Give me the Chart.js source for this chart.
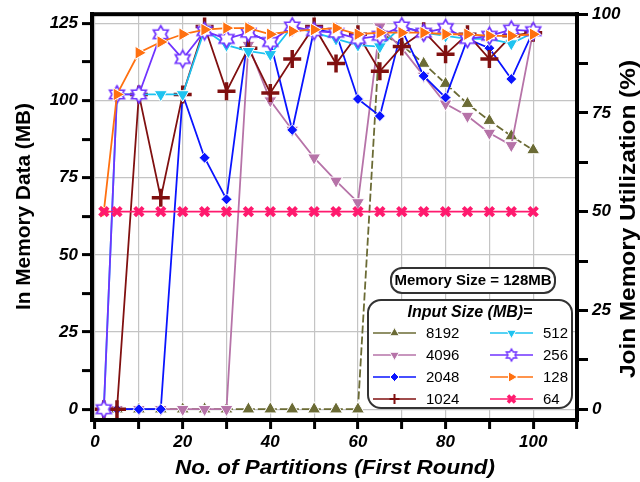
<!DOCTYPE html>
<html>
<head>
<meta charset="utf-8">
<script src="https://cdn.jsdelivr.net/npm/chart.js@4.4.1/dist/chart.umd.min.js"></script>
<style>
  html, body { margin: 0; padding: 0; background: #fff; }
  #wrap { width: 640px; height: 482px; }
</style>
</head>
<body>
<div id="wrap"><canvas id="chart" width="640" height="482"></canvas></div>
<script>
// x positions (no. of partitions, first round)
const partitions = [2, 5, 10, 15, 20, 25, 30, 35, 40, 45, 50, 55, 60, 65, 70, 75, 80, 85, 90, 95, 100];

// in-memory data (MB) per input size
const s8192 = [0, 0, 0, 0, 0, 0, 0, 0, 0, 0, 0, 0, 0, 122, 118, 112, 105.5, 99, 93.5, 88.5, 84];
const s4096 = [0, 0, 0, 0, 0, 0, 0, 118, 100, 90.5, 81.5, 74, 67, 124, 117, 108, 99, 95, 89.5, 85.5, 122.5];
const s2048 = [0, 0, 0, 0, 102, 81.5, 68, 122, 119, 90.5, 123, 122, 100.5, 95, 123, 108, 101, 120, 117, 107, 122.5];
const s1024 = [0, 0, 102, 68.5, 102, 124, 103, 117, 102.5, 113.5, 124, 112, 121.5, 109.5, 117.5, 122.5, 115, 121.5, 113.5, 121, 122];
const s512 = [0, 102, 102, 102, 102, 123, 118, 116, 115, 124, 122, 120, 118, 117.5, 124, 122, 121, 120, 120, 118.5, 122];
const s256 = [0, 102, 102, 121.5, 113.5, 122.5, 120, 122, 119, 124, 122.5, 122, 120, 121, 124, 122, 123.5, 120, 121, 123, 122.5];
const s128 = [64, 102, 115.5, 119, 121.5, 123, 123.5, 123.5, 121.5, 122.5, 123, 123.5, 121.5, 122, 122, 122, 121.5, 121.5, 121, 121, 121.5];
const s64 = [64, 64, 64, 64, 64, 64, 64, 64, 64, 64, 64, 64, 64, 64, 64, 64, 64, 64, 64, 64, 64];

// ticks
const xTickValues = [0, 10, 20, 30, 40, 50, 60, 70, 80, 90, 100, 110];
const xLabelValues = [0, 20, 40, 60, 80, 100];
const yTickValues = [0, 12.5, 25, 37.5, 50, 62.5, 75, 87.5, 100, 112.5, 125];
const yLabelValues = [0, 25, 50, 75, 100, 125];
const pctTickValues = [0, 12.5, 25, 37.5, 50, 62.5, 75, 87.5, 100];
const pctLabelValues = [0, 25, 50, 75, 100];

const FONT = "'Liberation Sans', Arial, sans-serif";
const tickFont = { family: FONT, size: 17, weight: 'bold', style: 'italic' };
const GRID = '#c4c4c4';

// hollow six-pointed star marker
function hexagram(color, r, lw) {
  const c = document.createElement('canvas');
  const s = Math.ceil(r * 2 + 4);
  c.width = c.height = s;
  const g = c.getContext('2d');
  g.beginPath();
  for (let i = 0; i < 12; i++) {
    const a = -Math.PI / 2 + i * Math.PI / 6;
    const rr = i % 2 === 0 ? r : r * 0.577;
    const px = s / 2 + rr * Math.cos(a), py = s / 2 + rr * Math.sin(a);
    if (i === 0) g.moveTo(px, py); else g.lineTo(px, py);
  }
  g.closePath();
  g.fillStyle = '#fff';
  g.fill();
  g.lineWidth = lw;
  g.strokeStyle = color;
  g.stroke();
  return c;
}

const colors = {
  c8192: '#6b6b35', c4096: '#b673a8', c2048: '#0a14ff', c1024: '#801010',
  c512: '#1ec3f0', c256: '#7033ff', c128: '#ff7010', c64: '#ff1a6e'
};

function series(label, values, color, style, radius, extra) {
  return Object.assign({
    label: label,
    data: partitions.map((x, i) => ({ x: x, y: values[i] })),
    borderColor: color,
    backgroundColor: color,
    borderWidth: 1.8,
    pointBackgroundColor: color,
    pointBorderColor: '#fff',
    pointBorderWidth: 1,
    pointStyle: style,
    pointRadius: radius,
    pointHoverRadius: radius,
    tension: 0
  }, extra || {});
}

const datasets = [
  series('8192', s8192, colors.c8192, 'triangle', 7.5, { order: 8, borderDash: [8, 3], legendRadius: 5.5 }),
  series('4096', s4096, colors.c4096, 'triangle', 7.5, { order: 7, pointRotation: 180, legendRadius: 5.5 }),
  series('2048', s2048, colors.c2048, 'rectRot', 5.5, { order: 6, legendRadius: 4.5 }),
  series('1024', s1024, colors.c1024, 'cross', 9, { order: 5, pointBorderColor: colors.c1024, pointBorderWidth: 3.5, legendRadius: 5, legendBorder: 2 }),
  series('512', s512, colors.c512, 'triangle', 7.5, { order: 4, pointRotation: 180, legendRadius: 5.5 }),
  series('256', s256, colors.c256, hexagram(colors.c256, 8.5, 1.7), 8.5, { order: 3, legendImage: hexagram(colors.c256, 6, 1.4) }),
  series('128', s128, colors.c128, 'triangle', 7.5, { order: 2, pointRotation: 90, legendRadius: 6 }),
  series('64', s64, colors.c64, 'crossRot', 6, { order: 1, pointBorderColor: colors.c64, pointBorderWidth: 4, legendRadius: 5, legendBorder: 3.5 })
];

function stretchedText(ctx, text, x, y, angle, font, width) {
  ctx.save();
  ctx.font = font;
  const w = ctx.measureText(text).width;
  ctx.translate(x, y);
  ctx.rotate(angle);
  ctx.scale(width / w, 1);
  ctx.textAlign = 'center';
  ctx.textBaseline = 'middle';
  ctx.fillStyle = '#000';
  ctx.fillText(text, 0, 0);
  ctx.restore();
}

function roundBox(ctx, x, y, w, h, r) {
  ctx.beginPath();
  ctx.moveTo(x + r, y);
  ctx.arcTo(x + w, y, x + w, y + h, r);
  ctx.arcTo(x + w, y + h, x, y + h, r);
  ctx.arcTo(x, y + h, x, y, r);
  ctx.arcTo(x, y, x + w, y, r);
  ctx.closePath();
  ctx.fillStyle = '#fff';
  ctx.fill();
  ctx.lineWidth = 2;
  ctx.strokeStyle = '#333';
  ctx.stroke();
}

const decorations = {
  id: 'decorations',
  afterDraw(chart) {
    const ctx = chart.ctx;
    const a = chart.chartArea;
    ctx.save();
    ctx.lineWidth = 4;
    ctx.strokeStyle = '#000';
    ctx.strokeRect(a.left, a.top, a.right - a.left, a.bottom - a.top);

    stretchedText(ctx, 'In Memory Data (MB)', 24, 206.5, -Math.PI / 2, 'bold 21px ' + FONT, 207);
    stretchedText(ctx, 'Join Memory Utilization (%)', 629, 219, -Math.PI / 2, 'bold 22px ' + FONT, 318);
    stretchedText(ctx, 'No. of Partitions (First Round)', 335, 468, 0, 'italic bold 21px ' + FONT, 320);

    // memory size box
    roundBox(ctx, 391, 268, 164, 25, 11);
    ctx.fillStyle = '#000';
    ctx.font = 'bold 15px ' + FONT;
    ctx.textAlign = 'center';
    ctx.textBaseline = 'middle';
    ctx.fillText('Memory Size = 128MB', 473, 281);

    // legend box
    roundBox(ctx, 368, 300, 204, 108, 13);
    ctx.fillStyle = '#000';
    ctx.font = 'italic bold 16px ' + FONT;
    ctx.fillText('Input Size (MB)=', 470, 313);

    const rows = [333, 355, 377, 399];
    const cols = [373, 490];
    ctx.font = '15px ' + FONT;
    ctx.textAlign = 'left';
    chart.data.datasets.forEach((ds, i) => {
      const x0 = cols[i < 4 ? 0 : 1];
      const y = rows[i % 4];
      ctx.save();
      ctx.strokeStyle = ds.borderColor;
      ctx.lineWidth = 1.6;
      ctx.beginPath();
      ctx.moveTo(x0, y);
      ctx.lineTo(x0 + 43, y);
      ctx.stroke();
      ctx.fillStyle = ds.pointBackgroundColor;
      ctx.strokeStyle = ds.pointBorderColor;
      if (ds.legendImage) {
        const im = ds.legendImage;
        ctx.drawImage(im, x0 + 21.5 - im.width / 2, y - im.height / 2);
      } else {
        ctx.lineWidth = ds.legendBorder || 1;
        Chart.helpers.drawPoint(ctx, {
          pointStyle: ds.pointStyle,
          rotation: ds.pointRotation || 0,
          radius: ds.legendRadius,
          borderWidth: ds.legendBorder || 1
        }, x0 + 21.5, y);
      }
      ctx.restore();
      ctx.fillStyle = '#000';
      ctx.fillText(ds.label, x0 + 53, y + 1);
    });
    ctx.restore();
  }
};

new Chart(document.getElementById('chart'), {
  type: 'line',
  data: { datasets: datasets },
  options: {
    responsive: false,
    animation: false,
    layout: { padding: { top: 14, left: 0, right: 0, bottom: 0 } },
    plugins: { legend: { display: false }, tooltip: { enabled: false } },
    scales: {
      x: {
        type: 'linear',
        min: -0.7,
        max: 110,
        afterBuildTicks: s => { s.ticks = xTickValues.map(v => ({ value: v })); },
        afterFit: s => { s.height = 62; },
        ticks: {
          font: tickFont, color: '#000', padding: 3, maxRotation: 0, autoSkip: false,
          callback: v => xLabelValues.includes(v) ? v : ''
        },
        grid: { color: GRID, lineWidth: 1.2, tickColor: '#000', tickLength: 9, tickWidth: 3 },
        border: { color: '#000', width: 4 }
      },
      y: {
        position: 'left',
        min: -3.5,
        max: 128,
        afterBuildTicks: s => { s.ticks = yTickValues.map(v => ({ value: v })); },
        afterFit: s => { s.width = 92; },
        ticks: {
          font: tickFont, color: '#000', padding: 4, autoSkip: false,
          callback: v => yLabelValues.includes(v) ? v : ''
        },
        grid: {
          color: c => (c.tick && yLabelValues.includes(c.tick.value)) ? GRID : 'rgba(0,0,0,0)',
          lineWidth: 1.2, tickColor: '#000', tickLength: 10, tickWidth: 3
        },
        border: { color: '#000', width: 4 }
      },
      pct: {
        position: 'right',
        min: -3.5 / 1.28,
        max: 100,
        afterBuildTicks: s => { s.ticks = pctTickValues.map(v => ({ value: v })); },
        afterFit: s => { s.width = 63; },
        ticks: {
          font: tickFont, color: '#000', padding: 4, autoSkip: false,
          callback: v => pctLabelValues.includes(v) ? v : ''
        },
        grid: { drawOnChartArea: false, tickColor: '#000', tickLength: 11, tickWidth: 3 },
        border: { color: '#000', width: 4 }
      }
    }
  },
  plugins: [decorations]
});
</script>
</body>
</html>
